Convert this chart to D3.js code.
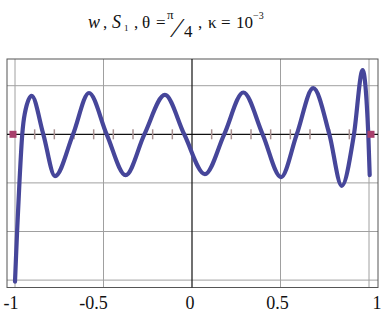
<!DOCTYPE html>
<html><head><meta charset="utf-8">
<script src="https://cdn.jsdelivr.net/npm/d3@7"></script>
<style>body{margin:0;background:#fff}svg{display:block}</style>
</head><body>
<script>
// data
const curveX = [-1.0, -0.994, -0.988, -0.975, -0.959, -0.945, -0.906, -0.840, -0.774, -0.672, -0.582, -0.482, -0.375, -0.269, -0.153, -0.044, 0.073, 0.182, 0.290, 0.399, 0.503, 0.592, 0.685, 0.776, 0.846, 0.915, 0.964, 0.996, 1.004];
const curveY = [-3.03, -2.5, -1.99, -1.0, 0.0, 0.42, 0.79, 0.0, -0.86, 0.0, 0.85, 0.0, -0.84, 0.0, 0.81, 0.0, -0.82, 0.0, 0.86, 0.0, -0.88, 0.0, 0.95, 0.0, -1.06, 0.0, 1.32, 0.0, -0.84];
const nodeTicks = [-8/9, -7/9, -6/9, -5/9, -4/9, -3/9, -2/9, -1/9, 1/9, 2/9, 3/9, 4/9, 5/9, 6/9, 7/9, 8/9];
const endSquares = [-1.0, 1.0];
const xTicks = [-1, -0.5, 0, 0.5, 1];
const xTickLabels = ["-1", "-0.5", "0", "0.5", "1"];
const yGrid = [1, -1, -2, -3];

const W = 381, H = 313;
const FONT = "'Liberation Serif', 'Times New Roman', serif";
const svg = d3.select("body").append("svg").attr("width", W).attr("height", H);

const x = d3.scaleLinear().domain([-1, 1]).range([15, 369]);
const y = d3.scaleLinear().domain([0, 1]).range([134.3, 85.7]);
const frame = {l: 7, r: 378, t: 59, b: 287.5};

// grid
svg.append("g").selectAll("line.v").data(xTicks.filter(d => d !== 0)).join("line")
  .attr("x1", d => x(d)).attr("x2", d => x(d)).attr("y1", frame.t).attr("y2", frame.b)
  .attr("stroke", "#a0a0a0").attr("stroke-width", 1);
svg.append("g").selectAll("line.h").data(yGrid).join("line")
  .attr("x1", frame.l).attr("x2", frame.r).attr("y1", d => y(d)).attr("y2", d => y(d))
  .attr("stroke", "#a0a0a0").attr("stroke-width", 1);

// frame
svg.append("rect").attr("x", frame.l).attr("y", frame.t)
  .attr("width", frame.r - frame.l).attr("height", frame.b - frame.t)
  .attr("fill", "none").attr("stroke", "#555").attr("stroke-width", 1);

// axes
svg.append("line").attr("x1", frame.l).attr("x2", frame.r).attr("y1", y(0)).attr("y2", y(0))
  .attr("stroke", "#111").attr("stroke-width", 1.2);
svg.append("line").attr("x1", x(0)).attr("x2", x(0)).attr("y1", frame.t).attr("y2", frame.b)
  .attr("stroke", "#111").attr("stroke-width", 1.2);

// node ticks
svg.append("g").selectAll("line").data(nodeTicks).join("line")
  .attr("x1", d => x(d)).attr("x2", d => x(d)).attr("y1", y(0) - 5).attr("y2", y(0) + 5)
  .attr("stroke", "#a89090").attr("stroke-width", 1.5);

// curve
const pts = curveX.map((d, i) => [d, curveY[i]]);
const line = d3.line().x(d => x(d[0])).y(d => y(d[1])).curve(d3.curveMonotoneX);
svg.append("path").datum(pts).attr("d", line)
  .attr("fill", "none").attr("stroke", "#46469a").attr("stroke-width", 4.2)
  .attr("stroke-linejoin", "round").attr("stroke-linecap", "round");

// end squares
svg.append("g").selectAll("rect").data(endSquares).join("rect")
  .attr("x", d => x(d) + (d < 0 ? -2 : 2) - 3.5).attr("y", y(0) - 3.5)
  .attr("width", 7).attr("height", 7).attr("fill", "#a8406c");

// x labels
svg.append("g").selectAll("text").data(xTicks).join("text")
  .attr("x", (d, i) => x(d) + [-4, -10, -2, -3, 8][i]).attr("y", 309)
  .attr("text-anchor", "middle")
  .attr("font-family", FONT).attr("font-size", 18)
  .attr("fill", "#111")
  .text((d, i) => xTickLabels[i]);

// title
const tg = svg.append("g").attr("font-family", FONT).attr("fill", "#111");
const T = (tx, ty, s, size, italic) => tg.append("text").attr("x", tx).attr("y", ty)
  .attr("font-size", size).attr("font-style", italic ? "italic" : "normal").text(s);
T(88, 28, "w", 18, true);
T(103, 28, ",", 17);
T(112, 28, "S", 18, true);
T(124, 31, "1", 9);
T(134, 28, ",", 17);
T(142, 28, "θ", 17);
T(156, 28, "=", 17);
T(167, 19, "π", 13);
T(175, 37, "⁄", 28);
T(184, 37, "4", 17);
T(198, 28, ",", 17);
T(208, 28, "κ", 17);
T(221, 28, "=", 17);
T(236, 28, "10", 17);
T(253, 19, "−3", 10);
</script>
</body></html>
